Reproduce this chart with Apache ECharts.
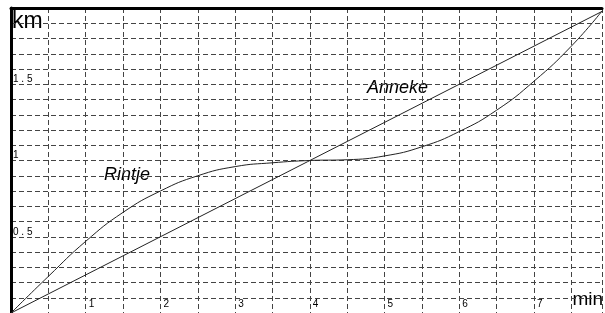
<!DOCTYPE html>
<html>
<head>
<meta charset="utf-8">
<script src="https://cdn.jsdelivr.net/npm/echarts@6/dist/echarts.min.js"></script>
<style>
  html, body { margin: 0; padding: 0; background: #fff; }
  #chart { width: 605px; height: 313px; }
</style>
</head>
<body>
<div id="chart"></div>
<script>
// time in minutes, distance in km
const rintjeMin = [0, 0.5, 1, 1.5, 2, 2.5, 3, 3.5, 4, 4.5, 5, 5.5, 6, 6.5, 7, 7.5, 7.91];
const rintjeKm = [0, 0.24, 0.47, 0.66, 0.8, 0.9, 0.96, 0.985, 1.0, 1.005, 1.03, 1.09, 1.19, 1.33, 1.52, 1.75, 1.98];
const annekeMin = [0, 8];
const annekeKm = [0, 2];
const xTickLabels = ['1', '2', '3', '4', '5', '6', '7'];
const yTickLabels = { 0.5: '0 . 5', 1: '1', 1.5: '1 . 5' };

const font = '"Liberation Sans", Arial, sans-serif';
const gridLine = { color: '#444', width: 1, type: [5, 3] };

const chart = echarts.init(document.getElementById('chart'));

const pairs = (xs, ys) => xs.map((x, i) => [x, ys[i]]);

chart.setOption({
  animation: false,
  grid: { left: 11, top: 8, right: 0, bottom: 0 },
  xAxis: [
    {
      type: 'value',
      min: 0,
      max: 7.91,
      interval: 0.5,
      axisLine: { show: false },
      axisTick: { show: false },
      splitLine: { show: true, lineStyle: gridLine },
      axisLabel: {
        inside: true,
        margin: 4,
        align: 'left',
        padding: [0, 0, 0, 3],
        fontFamily: font,
        fontSize: 10,
        color: '#000',
        formatter: (v) => {
          const i = xTickLabels.indexOf(String(v));
          return i >= 0 ? xTickLabels[i] : '';
        },
      },
    },
    {
      type: 'value',
      position: 'top',
      min: 0,
      max: 7.91,
      axisLine: { show: true, lineStyle: { color: '#000', width: 3 } },
      axisTick: { show: false },
      axisLabel: { show: false },
      splitLine: { show: false },
    },
  ],
  yAxis: {
    type: 'value',
    min: 0,
    max: 2,
    interval: 0.1,
    offset: 2,
    axisLine: { show: true, lineStyle: { color: '#000', width: 3 } },
    axisTick: { show: false },
    splitLine: { show: true, lineStyle: gridLine },
    axisLabel: {
      inside: true,
      margin: 4,
      verticalAlign: 'bottom',
      fontFamily: font,
      fontSize: 10,
      color: '#000',
      formatter: (v) => {
        const k = Math.round(v * 10) / 10;
        return yTickLabels[k] || '';
      },
    },
  },
  series: [
    {
      name: 'Rintje',
      type: 'line',
      data: pairs(rintjeMin, rintjeKm),
      smooth: 0.5,
      showSymbol: false,
      lineStyle: { color: '#222', width: 1 },
    },
    {
      name: 'Anneke',
      type: 'line',
      data: pairs(annekeMin, annekeKm),
      showSymbol: false,
      lineStyle: { color: '#222', width: 1 },
    },
  ],
  graphic: [
    {
      type: 'text',
      left: 11,
      top: 10,
      style: { text: 'km', font: '23px ' + font, fill: '#000', backgroundColor: '#fff', padding: [0, 1, 0, 1] },
    },
    {
      type: 'text',
      right: 2,
      top: 290,
      style: { text: 'min', font: '19px ' + font, fill: '#000', backgroundColor: '#fff', padding: [0, 0, 0, 1] },
    },
    {
      type: 'text',
      left: 367,
      top: 79,
      style: { text: 'Anneke', font: 'italic 18px ' + font, fill: '#000', backgroundColor: '#fff' },
    },
    {
      type: 'text',
      left: 104,
      top: 166,
      style: { text: 'Rintje', font: 'italic 18px ' + font, fill: '#000', backgroundColor: '#fff' },
    },
  ],
});
</script>
</body>
</html>
